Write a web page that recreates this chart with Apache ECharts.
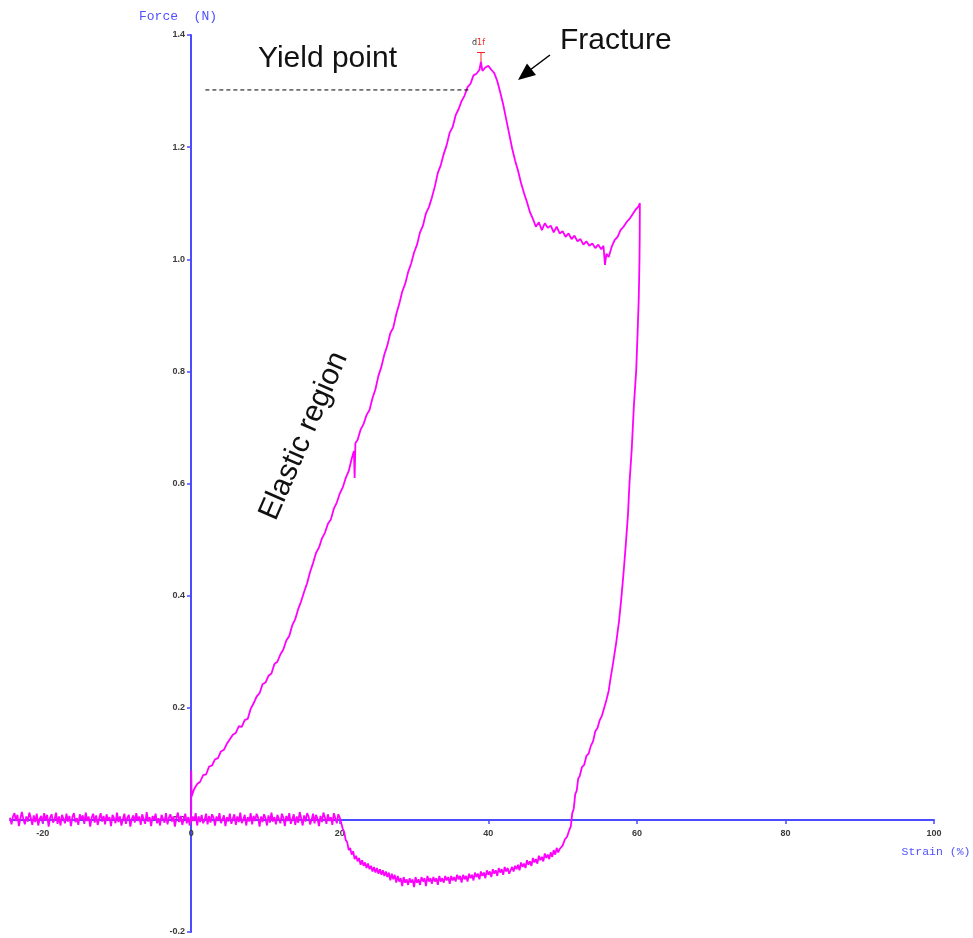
<!DOCTYPE html>
<html>
<head>
<meta charset="utf-8">
<title>Force - Strain</title>
<script src="https://cdn.jsdelivr.net/npm/echarts@6/dist/echarts.min.js"></script>
<style>
  html, body { margin: 0; padding: 0; background: #fff; }
  #myEcharts { width: 973px; height: 938px; }
</style>
</head>
<body>
<div id="myEcharts"></div>
<script>
// tick labels
var xTicks = [-20, 0, 20, 40, 60, 80, 100];

// pre-load noise, strain < 0
var preload = [
  [-24.4, 0.004], [-24.2, -0.008], [-24.0, 0.006], [-23.8, 0.012], [-23.6, -0.002], [-23.4, 0.009],
  [-23.2, -0.011], [-23.0, 0.003], [-22.8, 0.014], [-22.6, 0.001], [-22.4, -0.008], [-22.2, 0.006],
  [-22.0, -0.003], [-21.8, 0.013], [-21.6, 0.004], [-21.4, -0.009], [-21.2, 0.008], [-21.0, -0.004],
  [-20.8, 0.011], [-20.6, -0.01], [-20.4, 0.002], [-20.2, 0.007], [-20.0, -0.006], [-19.8, 0.012],
  [-19.6, -0.001], [-19.4, 0.009], [-19.2, -0.012], [-19.0, 0.004], [-18.8, 0.01], [-18.6, -0.005],
  [-18.4, 0.001], [-18.2, 0.013], [-18.0, -0.007], [-17.8, 0.006], [-17.6, -0.01], [-17.4, 0.009],
  [-17.2, 0.002], [-17.0, -0.006], [-16.8, 0.011], [-16.6, -0.003], [-16.4, 0.007], [-16.2, -0.011],
  [-16.0, 0.005], [-15.8, 0.012], [-15.6, -0.004], [-15.4, 0.003], [-15.2, -0.009], [-15.0, 0.01],
  [-14.8, 0.0], [-14.6, 0.008], [-14.4, -0.007], [-14.2, 0.013], [-14.0, -0.002], [-13.8, 0.006],
  [-13.6, -0.012], [-13.4, 0.004], [-13.2, 0.011], [-13.0, -0.005], [-12.8, 0.008], [-12.6, -0.009],
  [-12.4, 0.002], [-12.2, 0.012], [-12.0, -0.003], [-11.8, 0.007], [-11.6, -0.008], [-11.4, 0.01],
  [-11.2, -0.001], [-11.0, 0.005], [-10.8, -0.011], [-10.6, 0.009], [-10.4, 0.003], [-10.2, -0.006],
  [-10.0, 0.013], [-9.8, -0.004], [-9.6, 0.006], [-9.4, -0.01], [-9.2, 0.001], [-9.0, 0.011],
  [-8.8, -0.007], [-8.6, 0.004], [-8.4, 0.009], [-8.2, -0.012], [-8.0, 0.002], [-7.8, 0.008],
  [-7.6, -0.005], [-7.4, 0.012], [-7.2, -0.002], [-7.0, 0.006], [-6.8, -0.009], [-6.6, 0.01],
  [-6.4, 0.001], [-6.2, -0.007], [-6.0, 0.014], [-5.8, -0.003], [-5.6, 0.005], [-5.4, -0.011],
  [-5.2, 0.007], [-5.0, 0.0], [-4.8, 0.011], [-4.6, -0.006], [-4.4, 0.003], [-4.2, -0.01],
  [-4.0, 0.009], [-3.8, 0.002], [-3.6, -0.005], [-3.4, 0.012], [-3.2, -0.008], [-3.0, 0.004],
  [-2.8, 0.01], [-2.6, -0.003], [-2.4, 0.006], [-2.2, -0.012], [-2.0, 0.003], [-1.8, 0.013],
  [-1.6, -0.004], [-1.4, 0.007], [-1.2, -0.009], [-1.0, 0.002], [-0.8, 0.011], [-0.6, -0.006],
  [-0.4, 0.005], [-0.2, -0.01], [0.0, 0.012], [0.0, 0.088]
];

// loading: elastic region up to the peak, then fracture
var loading = [
  [0.05, 0.042], [0.4, 0.055], [0.8, 0.064], [1.2, 0.068], [1.6, 0.08], [2.0, 0.081], [2.4, 0.095],
  [2.8, 0.097], [3.2, 0.108], [3.6, 0.11], [4.0, 0.122], [4.4, 0.125], [4.8, 0.136], [5.2, 0.144],
  [5.6, 0.152], [6.0, 0.155], [6.4, 0.167], [6.8, 0.166], [7.2, 0.178], [7.6, 0.18], [8.0, 0.198],
  [8.4, 0.208], [8.8, 0.22], [9.2, 0.226], [9.6, 0.242], [10.0, 0.245], [10.4, 0.257], [10.8, 0.261],
  [11.2, 0.278], [11.6, 0.282], [12.0, 0.295], [12.4, 0.304], [12.8, 0.32], [13.2, 0.328], [13.6, 0.347],
  [14.0, 0.358], [14.4, 0.376], [14.8, 0.39], [15.2, 0.407], [15.6, 0.422], [16.0, 0.442], [16.4, 0.458],
  [16.8, 0.476], [17.2, 0.486], [17.6, 0.502], [18.0, 0.512], [18.4, 0.528], [18.8, 0.536], [19.2, 0.555],
  [19.6, 0.566], [20.0, 0.582], [20.4, 0.593], [20.8, 0.61], [21.2, 0.622], [21.6, 0.644], [21.9, 0.658],
  [22.0, 0.61], [22.1, 0.672], [22.4, 0.678], [22.8, 0.696], [23.2, 0.706], [23.6, 0.722], [24.0, 0.731],
  [24.4, 0.752], [24.8, 0.768], [25.2, 0.792], [25.6, 0.808], [26.0, 0.83], [26.4, 0.846], [26.8, 0.868],
  [27.2, 0.878], [27.6, 0.902], [28.0, 0.92], [28.4, 0.942], [28.8, 0.956], [29.2, 0.977], [29.6, 0.992],
  [30.0, 1.012], [30.4, 1.026], [30.8, 1.048], [31.2, 1.06], [31.6, 1.082], [32.0, 1.093], [32.4, 1.11],
  [32.8, 1.13], [33.2, 1.154], [33.6, 1.168], [34.0, 1.188], [34.4, 1.204], [34.8, 1.226], [35.2, 1.236],
  [35.6, 1.257], [36.0, 1.268], [36.4, 1.282], [36.8, 1.292], [37.2, 1.307], [37.6, 1.313], [38.0, 1.328],
  [38.4, 1.331], [38.8, 1.338], [39.0, 1.352], [39.2, 1.336], [39.6, 1.342], [40.0, 1.345], [40.4, 1.338],
  [40.8, 1.332], [41.2, 1.318], [41.6, 1.298], [42.0, 1.276], [42.4, 1.25], [42.8, 1.224], [43.2, 1.198],
  [43.6, 1.176], [44.0, 1.158], [44.4, 1.136], [44.8, 1.118], [45.2, 1.102], [45.6, 1.084], [46.0, 1.072],
  [46.4, 1.058], [46.8, 1.066], [47.2, 1.052], [47.6, 1.064], [48.0, 1.056], [48.4, 1.06], [48.8, 1.048],
  [49.2, 1.058], [49.6, 1.046], [50.0, 1.05], [50.4, 1.04], [50.8, 1.046], [51.2, 1.036], [51.6, 1.042],
  [52.0, 1.032], [52.4, 1.036], [52.8, 1.026], [53.2, 1.032], [53.6, 1.024], [54.0, 1.028], [54.4, 1.02],
  [54.8, 1.026], [55.2, 1.018], [55.5, 1.024], [55.7, 0.99], [55.9, 1.01], [56.2, 1.004], [56.6, 1.022],
  [57.0, 1.034], [57.4, 1.04], [57.8, 1.052], [58.2, 1.058], [58.6, 1.066], [59.0, 1.072], [59.4, 1.08],
  [59.8, 1.088], [60.2, 1.094], [60.4, 1.1]
];

// steep drop at the right side
var unloading = [
  [60.38, 1.04], [60.35, 1.0], [60.25, 0.93], [60.1, 0.87], [59.9, 0.8], [59.6, 0.74], [59.3, 0.66],
  [59.0, 0.6], [58.8, 0.545], [58.5, 0.49], [58.2, 0.44], [57.9, 0.395], [57.6, 0.355], [57.2, 0.315],
  [56.8, 0.28], [56.4, 0.248], [56.2, 0.23], [55.9, 0.214], [55.6, 0.2], [55.3, 0.186], [55.0, 0.178],
  [54.7, 0.164], [54.4, 0.158], [54.1, 0.14], [53.8, 0.132], [53.5, 0.118], [53.2, 0.114], [52.9, 0.098],
  [52.6, 0.094], [52.3, 0.078], [52.1, 0.074], [51.9, 0.052], [51.7, 0.046], [51.5, 0.02], [51.3, 0.012],
  [51.1, -0.012], [50.9, -0.018], [50.6, -0.03], [50.3, -0.035], [50.0, -0.046]
];

// negative loop going back to 20 %
var returnLoop = [
  [49.6, -0.052], [49.4, -0.058], [49.2, -0.05], [49.0, -0.062], [48.8, -0.054], [48.6, -0.066],
  [48.4, -0.058], [48.2, -0.07], [48.0, -0.062], [47.8, -0.068], [47.6, -0.06], [47.4, -0.074],
  [47.2, -0.066], [47.0, -0.072], [46.8, -0.064], [46.6, -0.078], [46.4, -0.07], [46.2, -0.076],
  [46.0, -0.068], [45.8, -0.082], [45.6, -0.074], [45.4, -0.08], [45.2, -0.072], [45.0, -0.086],
  [44.8, -0.078], [44.6, -0.084], [44.4, -0.076], [44.2, -0.09], [44.0, -0.08], [43.8, -0.088],
  [43.6, -0.082], [43.4, -0.092], [43.2, -0.084], [43.0, -0.09], [42.8, -0.096], [42.6, -0.086],
  [42.4, -0.092], [42.2, -0.084], [42.0, -0.098], [41.8, -0.088], [41.6, -0.094], [41.4, -0.086],
  [41.2, -0.1], [41.0, -0.09], [40.8, -0.096], [40.6, -0.088], [40.4, -0.102], [40.2, -0.092],
  [40.0, -0.098], [39.8, -0.09], [39.6, -0.104], [39.4, -0.094], [39.2, -0.1], [39.0, -0.092],
  [38.8, -0.106], [38.6, -0.096], [38.4, -0.102], [38.2, -0.094], [38.0, -0.108], [37.8, -0.098],
  [37.6, -0.104], [37.4, -0.096], [37.2, -0.11], [37.0, -0.1], [36.8, -0.106], [36.6, -0.098],
  [36.4, -0.112], [36.2, -0.1], [36.0, -0.106], [35.8, -0.098], [35.6, -0.11], [35.4, -0.102],
  [35.2, -0.108], [35.0, -0.1], [34.8, -0.114], [34.6, -0.102], [34.4, -0.108], [34.2, -0.1],
  [34.0, -0.112], [33.8, -0.104], [33.6, -0.11], [33.4, -0.1], [33.2, -0.116], [33.0, -0.104],
  [32.8, -0.11], [32.6, -0.102], [32.4, -0.114], [32.2, -0.104], [32.0, -0.11], [31.8, -0.1],
  [31.6, -0.118], [31.4, -0.104], [31.2, -0.11], [31.0, -0.102], [30.8, -0.116], [30.6, -0.106],
  [30.4, -0.112], [30.2, -0.102], [30.0, -0.12], [29.8, -0.106], [29.6, -0.112], [29.4, -0.104],
  [29.2, -0.116], [29.0, -0.106], [28.8, -0.112], [28.6, -0.102], [28.4, -0.118], [28.2, -0.104],
  [28.0, -0.11], [27.8, -0.1], [27.6, -0.112], [27.4, -0.098], [27.2, -0.106], [27.0, -0.096],
  [26.8, -0.108], [26.6, -0.094], [26.4, -0.102], [26.2, -0.092], [26.0, -0.1], [25.8, -0.09],
  [25.6, -0.098], [25.4, -0.088], [25.2, -0.096], [25.0, -0.086], [24.8, -0.094], [24.6, -0.084],
  [24.4, -0.092], [24.2, -0.082], [24.0, -0.088], [23.8, -0.078], [23.6, -0.086], [23.4, -0.076],
  [23.2, -0.082], [23.0, -0.072], [22.8, -0.08], [22.6, -0.068], [22.4, -0.074], [22.2, -0.064],
  [22.0, -0.07], [21.8, -0.056], [21.6, -0.062], [21.4, -0.05], [21.2, -0.054], [21.0, -0.04],
  [20.8, -0.036], [20.6, -0.022], [20.4, -0.016], [20.2, -0.006], [20.0, 0.004]
];

// noise from 20 % back to 0
var tail = [
  [19.8, 0.01], [19.6, -0.006], [19.4, 0.003], [19.2, 0.012], [19.0, -0.009], [18.8, 0.005],
  [18.6, -0.002], [18.4, 0.01], [18.2, -0.007], [18.0, 0.004], [17.8, 0.013], [17.6, -0.004],
  [17.4, 0.007], [17.2, -0.011], [17.0, 0.002], [16.8, 0.009], [16.6, -0.006], [16.4, 0.011],
  [16.2, 0.0], [16.0, -0.008], [15.8, 0.006], [15.6, 0.012], [15.4, -0.003], [15.2, 0.008],
  [15.0, -0.01], [14.8, 0.003], [14.6, 0.014], [14.4, -0.005], [14.2, 0.006], [14.0, -0.009],
  [13.8, 0.01], [13.6, 0.001], [13.4, -0.007], [13.2, 0.012], [13.0, -0.002], [12.8, 0.007],
  [12.6, -0.011], [12.4, 0.004], [12.2, 0.011], [12.0, -0.006], [11.8, 0.002], [11.6, 0.009],
  [11.4, -0.008], [11.2, 0.005], [11.0, -0.003], [10.8, 0.013], [10.6, -0.005], [10.4, 0.008],
  [10.2, -0.01], [10.0, 0.003], [9.8, 0.01], [9.6, -0.004], [9.4, 0.006], [9.2, -0.012],
  [9.0, 0.004], [8.8, 0.011], [8.6, -0.002], [8.4, 0.007], [8.2, -0.008], [8.0, 0.012],
  [7.8, -0.003], [7.6, 0.005], [7.4, -0.01], [7.2, 0.009], [7.0, 0.0], [6.8, -0.006],
  [6.6, 0.013], [6.4, -0.004], [6.2, 0.006], [6.0, -0.009], [5.8, 0.01], [5.6, 0.002],
  [5.4, -0.007], [5.2, 0.011], [5.0, -0.003], [4.8, 0.005], [4.6, -0.011], [4.4, 0.008],
  [4.2, 0.001], [4.0, -0.006], [3.8, 0.012], [3.6, -0.002], [3.4, 0.006], [3.2, -0.01],
  [3.0, 0.004], [2.8, 0.01], [2.6, -0.005], [2.4, 0.007], [2.2, -0.008], [2.0, 0.011],
  [1.8, 0.0], [1.6, -0.006], [1.4, 0.009], [1.2, -0.004], [1.0, 0.006], [0.8, -0.01],
  [0.6, 0.012], [0.4, -0.002], [0.2, 0.006], [0.0, -0.004]
];

// yield level (dashed line)
var yieldLine = [[1.9, 1.302], [37.6, 1.302]];

var curve = preload.concat(loading, unloading, returnLoop, tail);

var axisBlue = "#4b4bff";
var labelStyle = { color: "#3a3a3a", fontSize: 9, fontWeight: "bold", fontFamily: "Liberation Sans" };

var myChart = echarts.init(document.getElementById("myEcharts"));
var option = {
  animation: false,
  backgroundColor: "#fff",
  grid: { left: 10, right: 39, top: 35, bottom: 6, containLabel: false, outerBoundsMode: "none" },
  xAxis: {
    type: "value",
    position: "bottom",
    // move the axis up to force = 0
    offset: -112,
    min: -24.4,
    max: 100,
    name: "Strain (%)",
    nameLocation: "end",
    nameGap: 2,
    nameMoveOverlap: false,
    nameTextStyle: {
      color: "#5050ff", fontSize: 11.5, fontFamily: "Liberation Mono",
      align: "center", verticalAlign: "top", padding: [26, 0, 0, 0],
    },
    axisLine: { onZero: false, lineStyle: { color: axisBlue, width: 2 } },
    axisTick: { show: true, length: 4, customValues: xTicks, lineStyle: { color: axisBlue, width: 1.5 } },
    axisLabel: Object.assign({ customValues: xTicks, margin: 9 }, labelStyle),
    splitLine: { show: false },
  },
  yAxis: {
    type: "value",
    position: "left",
    // move the axis right to strain = 0
    offset: -181,
    min: -0.2,
    max: 1.4,
    interval: 0.2,
    name: "Force  (N)",
    nameLocation: "end",
    nameGap: 12,
    nameMoveOverlap: false,
    nameTextStyle: {
      color: "#5050ff", fontSize: 13, fontFamily: "Liberation Mono",
      align: "center", padding: [0, 26, 0, 0],
    },
    axisLine: { onZero: false, lineStyle: { color: axisBlue, width: 2 } },
    axisTick: { show: true, length: 4, lineStyle: { color: axisBlue, width: 1.5 } },
    axisLabel: Object.assign({
      margin: 6,
      formatter: function (v) {
        return v.toFixed(1);
      },
    }, labelStyle),
    splitLine: { show: false },
  },
  series: [
    {
      name: "curve",
      type: "line",
      data: curve,
      showSymbol: false,
      symbol: "none",
      lineStyle: { color: "#ff00ff", width: 1.8 },
      z: 3,
    },
    {
      name: "yield",
      type: "line",
      data: yieldLine,
      showSymbol: false,
      symbol: "none",
      lineStyle: { color: "#000", width: 1, type: [4, 3] },
      z: 4,
    },
  ],
  graphic: [
    {
      type: "text",
      left: 258, top: 44,
      style: { text: "Yield point", fontSize: 30, fontFamily: "Liberation Sans", fill: "#111" },
    },
    {
      type: "text",
      left: 560, top: 26,
      style: { text: "Fracture", fontSize: 30, fontFamily: "Liberation Sans", fill: "#111" },
    },
    {
      type: "text",
      x: 304, y: 436,
      rotation: 1.16,
      style: {
        text: "Elastic region", fontSize: 30, fontFamily: "Liberation Sans", fill: "#111",
        align: "center", verticalAlign: "middle",
      },
    },
    // arrow to the peak
    {
      type: "line",
      shape: { x1: 550, y1: 55, x2: 530, y2: 70 },
      style: { stroke: "#000", lineWidth: 1.5 },
    },
    {
      type: "polygon",
      shape: { points: [[518, 80], [527, 63.5], [536, 75]] },
      style: { fill: "#000" },
    },
    // d1f marker
    {
      type: "text",
      x: 472, y: 39,
      style: {
        text: "{a|d}{b|1f}",
        rich: {
          a: { fontSize: 8, fill: "#333", fontFamily: "DejaVu Sans" },
          b: { fontSize: 8, fill: "#ff2020", fontFamily: "DejaVu Sans" },
        },
      },
    },
    {
      type: "line",
      shape: { x1: 477, y1: 52.5, x2: 485, y2: 52.5 },
      style: { stroke: "#ff2020", lineWidth: 1 },
    },
    {
      type: "line",
      shape: { x1: 481, y1: 52.5, x2: 481, y2: 62 },
      style: { stroke: "#ff2020", lineWidth: 1 },
    },
  ],
};
myChart.setOption(option);
</script>
</body>
</html>
